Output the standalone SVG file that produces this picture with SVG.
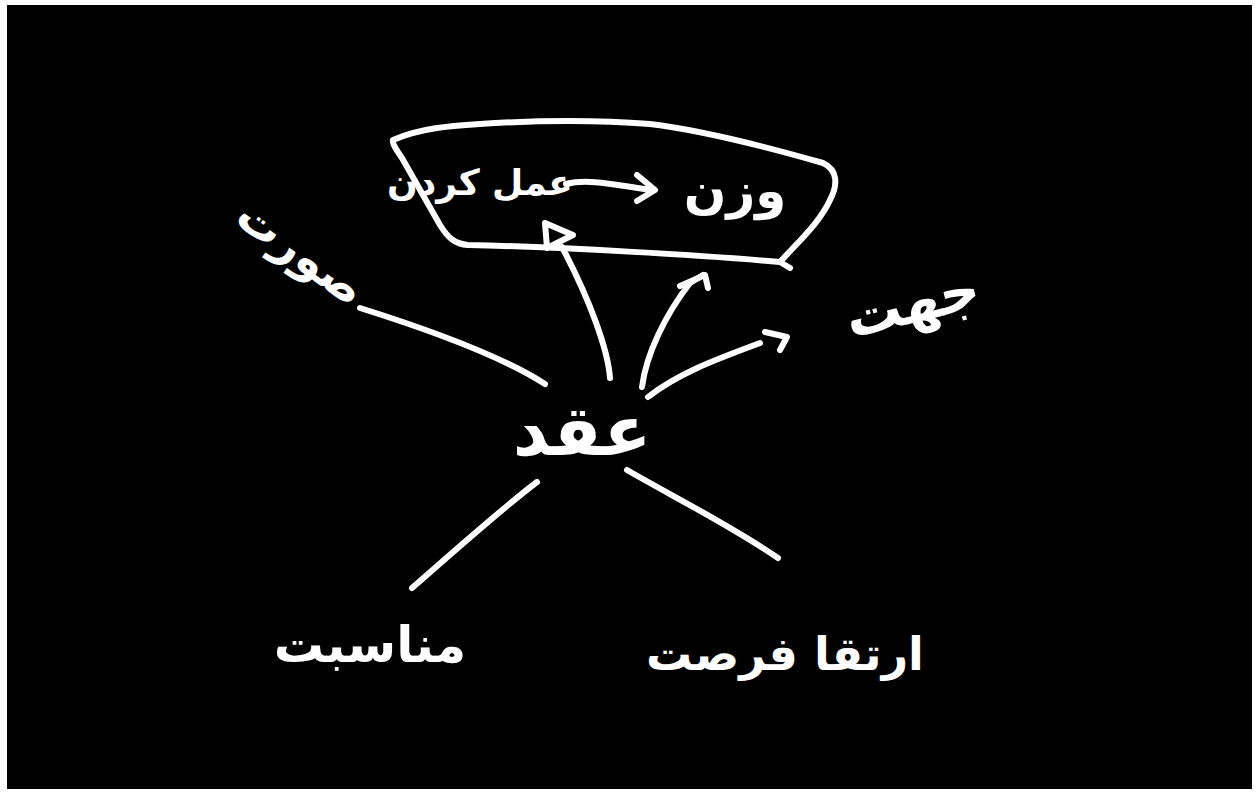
<svg xmlns="http://www.w3.org/2000/svg" width="1259" height="794" viewBox="0 0 1259 794">
<style>
.s{fill:none;stroke:#fff;stroke-width:6;stroke-linecap:round;stroke-linejoin:round}
.t{fill:#fff;font-family:"DejaVu Sans","Noto Sans",sans-serif;font-weight:bold;text-anchor:middle}
</style>
<rect x="0" y="0" width="1259" height="794" fill="#fff"/>
<rect x="7" y="5" width="1245" height="784" fill="#000"/>
<g id="box">
<path class="s" d="M393,140 C420,128 450,126 480,124 C540,120 600,120 650,124 C700,130 760,145 823,163 C838,170 838,185 830,200 C820,222 800,240 780,262 C700,255 560,247 468,245 C455,244 448,238 440,225 L402,158 C395,148 392,143 393,140"/>
<path class="s" d="M780,262 L790,268"/>
<text class="t" x="480" y="195" font-size="36">عمل کردن</text>
<path class="s" d="M566,184 C590,178 620,186 653,190 M637,175 L655,190 L637,201"/>
<text class="t" x="735" y="208" font-size="50" letter-spacing="10">وزن</text>
</g>
<g id="center">
<text class="t" x="582" y="455" font-size="70">عقد</text>
</g>
<g id="left">
<text class="t" font-size="46" transform="translate(292,265) rotate(36)">صورت</text>
</g>
<g id="right">
<text class="t" font-size="56" transform="translate(917,322) rotate(-14)">جهت</text>
</g>
<g id="bottomleft">
<text class="t" x="370" y="662" font-size="50">مناسبت</text>
</g>
<g id="bottomright">
<text class="t" x="785" y="670" font-size="46">ارتقا فرصت</text>
</g>
<g id="connectors">
<path class="s" d="M545,384 C500,355 430,330 360,308"/>
<path class="s" d="M610,378 C608,350 590,300 562,247"/>
<path class="s" d="M545,223 L573,235 L547,248 Z"/>
<path class="s" d="M642,387 C646,355 665,315 690,283 L703,275"/>
<path class="s" d="M680,286 L705,275 L708,288"/>
<path class="s" d="M648,397 C680,372 720,358 760,343"/>
<path class="s" d="M765,332 L787,337 L780,350"/>
<path class="s" d="M537,482 C500,510 450,555 412,588"/>
<path class="s" d="M627,470 C670,495 730,525 778,558"/>
</g>
</svg>
